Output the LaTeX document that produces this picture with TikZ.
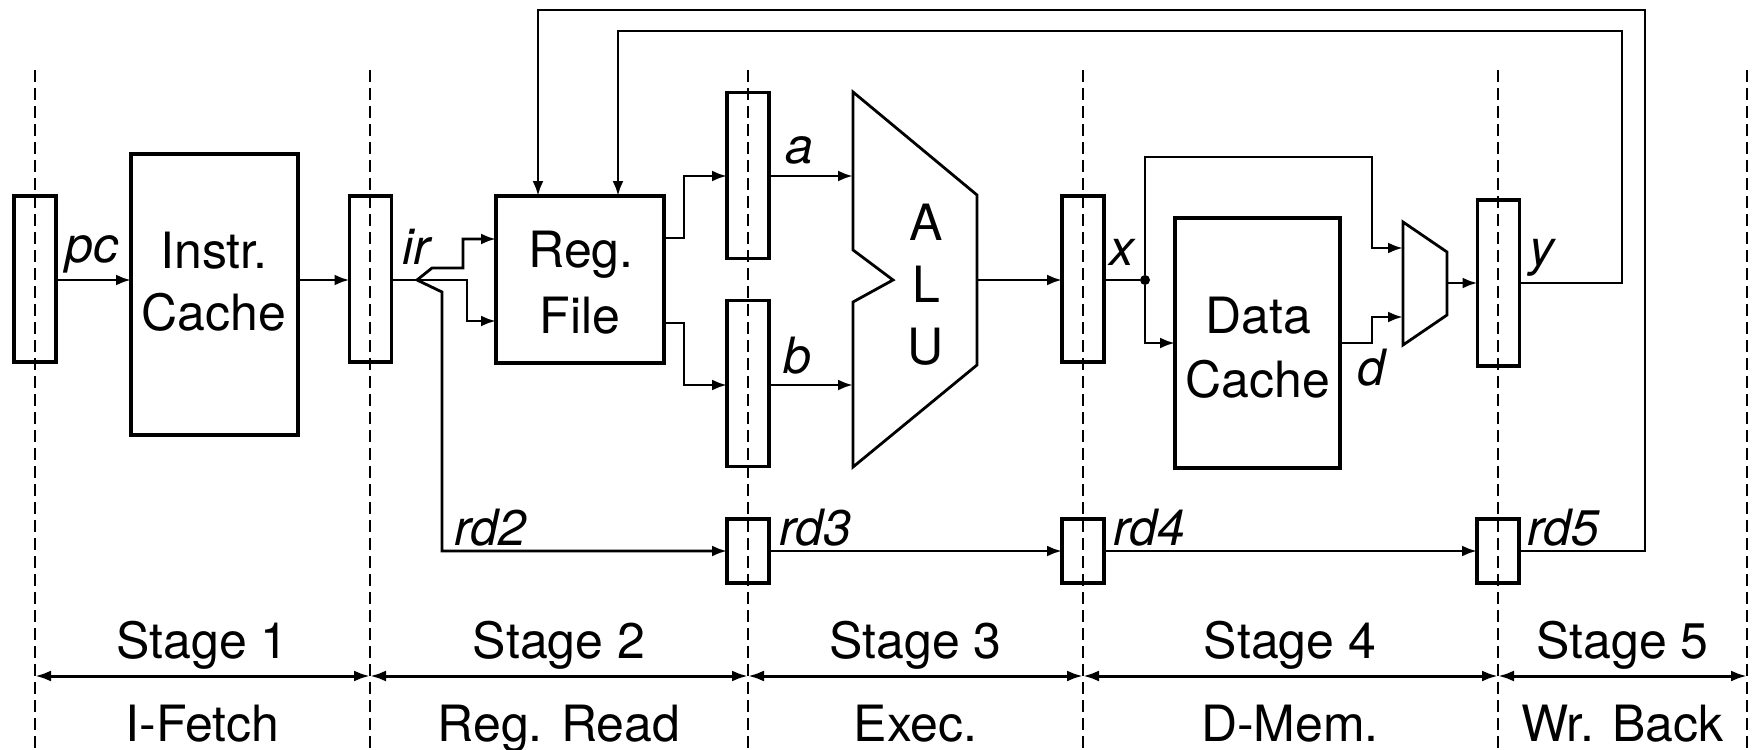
\documentclass[tikz,border=0pt]{standalone}
\usepackage{fontspec}
\setmainfont{TeX Gyre Heros}
\usetikzlibrary{arrows.meta}
\begin{document}
\begin{tikzpicture}[x=0.5pt,y=-0.5pt,
  conn/.style={line width=1.4pt},
  arr/.style={conn,-{Latex[length=7.5pt,width=5.5pt]}},
  reg/.style={draw,line width=1.6pt,minimum width=21pt,minimum height=83pt,inner sep=0pt,outer sep=0pt},
  rdreg/.style={reg,minimum height=32pt},
  unit/.style={draw,line width=1.6pt,inner sep=0pt,outer sep=0pt},
  shapeline/.style={line width=1.4pt},
  txt/.style={font=\fontsize{25}{30}\selectfont,inner sep=0pt,anchor=base},
  lbl/.style={font=\fontsize{25}{30}\selectfont\itshape,inner sep=0pt,anchor=base west},
  stageline/.style={line width=1pt,dash pattern=on 6pt off 3pt},
  span/.style={line width=1.5pt,{Latex[length=8pt,width=5.5pt]}-{Latex[length=8pt,width=5.5pt]}},
  dot/.style={circle,fill,inner sep=0pt,minimum size=5pt}
]
\useasboundingbox (0,0) rectangle (1758,750);

% stage boundaries
\foreach \n/\x in {1/35,2/370,3/748,4/1083,5/1498,6/1747}
  \coordinate (s\n) at (\x,70);
\foreach \n in {1,...,6}
  \draw[stageline] (s\n) -- (s\n |- 0,750);
\foreach \a/\b in {1/2,2/3,3/4,4/5,5/6}
  \draw[span] (s\a |- 0,676) -- (s\b |- 0,676);

\node[txt] (st1) at (202.5,658) {Stage 1};
\node[txt] (st2) at (559,658) {Stage 2};
\node[txt] (st3) at (915.5,658) {Stage 3};
\node[txt] (st4) at (1290,658) {Stage 4};
\node[txt] (st5) at (1622.5,658) {Stage 5};
\node[txt] (nm1) at (202.5,741) {I-Fetch};
\node[txt] (nm2) at (559,741) {Reg. Read};
\node[txt] (nm3) at (915.5,741) {Exec.};
\node[txt] (nm4) at (1290,741) {D-Mem.};
\node[txt] (nm5) at (1622.5,741) {Wr. Back};

% pipeline registers
\node[reg] (r1) at (35,279) {};
\node[reg] (r2) at (370.5,279) {};
\node[reg] (ra) at (748,175.5) {};
\node[reg] (rb) at (748,383.5) {};
\node[reg] (rx) at (1083,279) {};
\node[reg] (ry) at (1498.5,283) {};
\node[rdreg] (rd3) at (748,551) {};
\node[rdreg] (rd4) at (1083,551) {};
\node[rdreg] (rd5) at (1498,551) {};

% functional units
\node[unit,minimum width=83.5pt,minimum height=140.5pt] (ic) at (214.5,294.5) {};
\node[unit,minimum width=84pt,minimum height=83.5pt] (rf) at (580,279.5) {};
\node[unit,minimum width=82.5pt,minimum height=125pt] (dc) at (1257.5,343) {};
\node[txt] (ic1) at (214,268) {Instr.};
\node[txt] (ic2) at (214,330) {Cache};
\node[txt] (rf1) at (581,267) {Reg.};
\node[txt] (rf2) at (580,333) {File};
\node[txt] (dc1) at (1258,333) {Data};
\node[txt] (dc2) at (1258,397) {Cache};

% ALU
\draw[shapeline] (853,92) -- (977,195) -- (977,365) -- (853,467) -- (853,302) -- (893,280) -- (853,250) -- cycle;
\node[txt] (aluA) at (926,240) {A};
\node[txt] (aluL) at (926,302) {L};
\node[txt] (aluU) at (926,364) {U};
\coordinate (alua) at (853,176);
\coordinate (alub) at (853,385);
\coordinate (aluo) at (977,280);

% MUX
\draw[shapeline] (1403,222) -- (1447,252) -- (1447,315) -- (1403,345) -- cycle;
\coordinate (mux1) at (1403,248);
\coordinate (mux2) at (1403,317);
\coordinate (muxo) at (1447,283);

% connectors
\draw[arr] (r1.east |- 0,280) -- (ic.west |- 0,280);
\draw[arr] (ic.east |- 0,280) -- (r2.west |- 0,280);
\coordinate (fork) at (417,280);
\draw[conn] (r2.east |- 0,280) -- (fork);
\draw[arr] (fork) -- (432,268) -- (463,268) -- (463,239) -- (rf.west |- 0,239);
\draw[arr] (fork) -- (467,280) -- (467,321) -- (rf.west |- 0,321);
\draw[arr] (fork) -- (442,292) -- (442,551) -- (rd3.west);
\draw[arr] (rf.east |- 0,238) -- (684,238) -- (684,176) -- (ra.west |- 0,176);
\draw[arr] (rf.east |- 0,323) -- (684,323) -- (684,385) -- (rb.west |- 0,385);
\draw[arr] (ra.east |- alua) -- (alua);
\draw[arr] (rb.east |- alub) -- (alub);
\draw[arr] (aluo) -- (rx.west |- aluo);
\node[dot] (xd) at (1145,280) {};
\draw[conn] (rx.east |- xd) -- (xd);
\draw[arr] (xd) -- (1145,157) -- (1372,157) -- (1372,248) -- (mux1);
\draw[arr] (xd) -- (1145,343) -- (dc.west);
\draw[arr] (dc.east) -- (1372,343) -- (1372,317) -- (mux2);
\draw[arr] (muxo) -- (ry.west |- muxo);
\draw[arr] (ry.east |- muxo) -- (1622,283) -- (1622,31) -- (618,31) -- (618,0 |- rf.north);
\draw[arr] (rd3.east) -- (rd4.west);
\draw[arr] (rd4.east) -- (rd5.west);
\draw[arr] (rd5.east) -- (1645,551) -- (1645,10) -- (538,10) -- (538,0 |- rf.north);

% labels
\node[lbl] (lpc) at (65,262) {pc};
\node[lbl] (lir) at (402,264) {ir};
\node[lbl] (la) at (785,163) {a};
\node[lbl] (lb) at (783,373) {b};
\node[lbl] (lx) at (1109,265) {x};
\node[lbl] (ly) at (1529,265) {y};
\node[lbl] (ld) at (1357,385) {d};
\node[lbl] (lrd2) at (454,545) {rd2};
\node[lbl] (lrd3) at (779,545) {rd3};
\node[lbl] (lrd4) at (1113,545) {rd4};
\node[lbl] (lrd5) at (1527,545) {rd5};
\end{tikzpicture}
\end{document}
